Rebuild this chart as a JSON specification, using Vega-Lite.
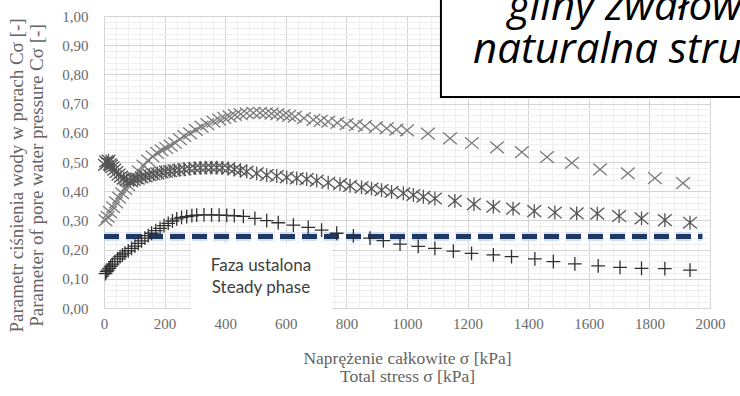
{
  "$schema": "https://vega.github.io/schema/vega-lite/v6.json",
  "width": 606,
  "height": 292,
  "autosize": {"type": "none"},
  "padding": {"left": 104, "top": 16, "right": 30, "bottom": 88},
  "background": "white",
  "config": {"view": {"stroke": null}, "font": "Liberation Serif"},
  "datasets": {
    "pts": [
      {"s":"A","x":5,"y":0.300},{"s":"A","x":12,"y":0.312},{"s":"A","x":20,"y":0.328},{"s":"A","x":30,"y":0.345},{"s":"A","x":40,"y":0.362},{"s":"A","x":50,"y":0.378},{"s":"A","x":60,"y":0.393},{"s":"A","x":70,"y":0.408},{"s":"A","x":80,"y":0.421},{"s":"A","x":90,"y":0.434},{"s":"A","x":100,"y":0.446},{"s":"A","x":115,"y":0.468},{"s":"A","x":130,"y":0.488},{"s":"A","x":146,"y":0.505},{"s":"A","x":160,"y":0.519},{"s":"A","x":175,"y":0.531},{"s":"A","x":190,"y":0.540},{"s":"A","x":205,"y":0.548},{"s":"A","x":220,"y":0.556},{"s":"A","x":235,"y":0.565},{"s":"A","x":250,"y":0.578},{"s":"A","x":265,"y":0.589},{"s":"A","x":284,"y":0.598},{"s":"A","x":303,"y":0.610},{"s":"A","x":322,"y":0.621},{"s":"A","x":341,"y":0.630},{"s":"A","x":361,"y":0.638},{"s":"A","x":380,"y":0.645},{"s":"A","x":397,"y":0.651},{"s":"A","x":414,"y":0.656},{"s":"A","x":432,"y":0.661},{"s":"A","x":451,"y":0.664},{"s":"A","x":471,"y":0.667},{"s":"A","x":493,"y":0.668},{"s":"A","x":515,"y":0.668},{"s":"A","x":534,"y":0.667},{"s":"A","x":553,"y":0.666},{"s":"A","x":572,"y":0.664},{"s":"A","x":592,"y":0.661},{"s":"A","x":611,"y":0.658},{"s":"A","x":630,"y":0.655},{"s":"A","x":660,"y":0.650},{"s":"A","x":691,"y":0.644},{"s":"A","x":715,"y":0.641},{"s":"A","x":740,"y":0.638},{"s":"A","x":770,"y":0.634},{"s":"A","x":801,"y":0.630},{"s":"A","x":831,"y":0.626},{"s":"A","x":861,"y":0.623},{"s":"A","x":897,"y":0.619},{"s":"A","x":933,"y":0.615},{"s":"A","x":965,"y":0.611},{"s":"A","x":1000,"y":0.608},{"s":"A","x":1069,"y":0.597},{"s":"A","x":1142,"y":0.581},{"s":"A","x":1214,"y":0.565},{"s":"A","x":1297,"y":0.550},{"s":"A","x":1379,"y":0.534},{"s":"A","x":1462,"y":0.517},{"s":"A","x":1544,"y":0.497},{"s":"A","x":1637,"y":0.475},{"s":"A","x":1729,"y":0.461},{"s":"A","x":1818,"y":0.445},{"s":"A","x":1911,"y":0.428},
      {"s":"B","x":3,"y":0.490},{"s":"B","x":7,"y":0.502},{"s":"B","x":11,"y":0.497},{"s":"B","x":15,"y":0.505},{"s":"B","x":19,"y":0.492},{"s":"B","x":23,"y":0.488},{"s":"B","x":28,"y":0.482},{"s":"B","x":34,"y":0.474},{"s":"B","x":41,"y":0.465},{"s":"B","x":48,"y":0.457},{"s":"B","x":56,"y":0.450},{"s":"B","x":65,"y":0.443},{"s":"B","x":75,"y":0.438},{"s":"B","x":86,"y":0.436},{"s":"B","x":98,"y":0.439},{"s":"B","x":111,"y":0.443},{"s":"B","x":124,"y":0.447},{"s":"B","x":137,"y":0.451},{"s":"B","x":150,"y":0.455},{"s":"B","x":163,"y":0.458},{"s":"B","x":176,"y":0.461},{"s":"B","x":190,"y":0.464},{"s":"B","x":204,"y":0.467},{"s":"B","x":218,"y":0.469},{"s":"B","x":233,"y":0.471},{"s":"B","x":248,"y":0.473},{"s":"B","x":265,"y":0.475},{"s":"B","x":282,"y":0.477},{"s":"B","x":300,"y":0.479},{"s":"B","x":318,"y":0.480},{"s":"B","x":336,"y":0.481},{"s":"B","x":354,"y":0.481},{"s":"B","x":372,"y":0.481},{"s":"B","x":390,"y":0.480},{"s":"B","x":410,"y":0.478},{"s":"B","x":430,"y":0.475},{"s":"B","x":450,"y":0.471},{"s":"B","x":471,"y":0.467},{"s":"B","x":504,"y":0.461},{"s":"B","x":537,"y":0.455},{"s":"B","x":570,"y":0.452},{"s":"B","x":603,"y":0.447},{"s":"B","x":636,"y":0.444},{"s":"B","x":669,"y":0.441},{"s":"B","x":702,"y":0.436},{"s":"B","x":740,"y":0.429},{"s":"B","x":779,"y":0.424},{"s":"B","x":812,"y":0.418},{"s":"B","x":850,"y":0.413},{"s":"B","x":883,"y":0.409},{"s":"B","x":916,"y":0.404},{"s":"B","x":949,"y":0.398},{"s":"B","x":988,"y":0.393},{"s":"B","x":1021,"y":0.387},{"s":"B","x":1054,"y":0.381},{"s":"B","x":1092,"y":0.375},{"s":"B","x":1158,"y":0.367},{"s":"B","x":1221,"y":0.356},{"s":"B","x":1285,"y":0.347},{"s":"B","x":1350,"y":0.340},{"s":"B","x":1420,"y":0.332},{"s":"B","x":1488,"y":0.327},{"s":"B","x":1560,"y":0.324},{"s":"B","x":1628,"y":0.323},{"s":"B","x":1700,"y":0.315},{"s":"B","x":1774,"y":0.307},{"s":"B","x":1851,"y":0.301},{"s":"B","x":1934,"y":0.292},
      {"s":"C","x":5,"y":0.118},{"s":"C","x":9,"y":0.125},{"s":"C","x":13,"y":0.130},{"s":"C","x":17,"y":0.136},{"s":"C","x":22,"y":0.143},{"s":"C","x":28,"y":0.150},{"s":"C","x":36,"y":0.159},{"s":"C","x":45,"y":0.168},{"s":"C","x":53,"y":0.176},{"s":"C","x":61,"y":0.182},{"s":"C","x":69,"y":0.188},{"s":"C","x":80,"y":0.196},{"s":"C","x":91,"y":0.204},{"s":"C","x":102,"y":0.212},{"s":"C","x":113,"y":0.221},{"s":"C","x":124,"y":0.230},{"s":"C","x":135,"y":0.239},{"s":"C","x":146,"y":0.248},{"s":"C","x":157,"y":0.256},{"s":"C","x":171,"y":0.265},{"s":"C","x":185,"y":0.273},{"s":"C","x":198,"y":0.282},{"s":"C","x":212,"y":0.290},{"s":"C","x":226,"y":0.298},{"s":"C","x":240,"y":0.305},{"s":"C","x":256,"y":0.310},{"s":"C","x":273,"y":0.313},{"s":"C","x":290,"y":0.316},{"s":"C","x":306,"y":0.318},{"s":"C","x":330,"y":0.319},{"s":"C","x":355,"y":0.319},{"s":"C","x":380,"y":0.318},{"s":"C","x":405,"y":0.317},{"s":"C","x":430,"y":0.316},{"s":"C","x":460,"y":0.314},{"s":"C","x":498,"y":0.307},{"s":"C","x":537,"y":0.299},{"s":"C","x":575,"y":0.292},{"s":"C","x":625,"y":0.284},{"s":"C","x":674,"y":0.276},{"s":"C","x":718,"y":0.267},{"s":"C","x":768,"y":0.256},{"s":"C","x":823,"y":0.247},{"s":"C","x":878,"y":0.239},{"s":"C","x":922,"y":0.231},{"s":"C","x":977,"y":0.219},{"s":"C","x":1037,"y":0.211},{"s":"C","x":1092,"y":0.204},{"s":"C","x":1153,"y":0.195},{"s":"C","x":1213,"y":0.187},{"s":"C","x":1285,"y":0.182},{"s":"C","x":1345,"y":0.176},{"s":"C","x":1422,"y":0.168},{"s":"C","x":1483,"y":0.159},{"s":"C","x":1554,"y":0.151},{"s":"C","x":1631,"y":0.144},{"s":"C","x":1703,"y":0.139},{"s":"C","x":1774,"y":0.136},{"s":"C","x":1851,"y":0.135},{"s":"C","x":1934,"y":0.130}
    ],
    "box": [{"x": 1112, "x2": 2800, "y": 0.723, "y2": 1.6}],
    "boxtext": [{"t": "gliny zwałowe", "x": 1333, "y": 0.986}, {"t": "naturalna struktura", "x": 1218, "y": 0.839}],
    "faza": [{"x": 287, "x2": 752, "y": -0.035, "y2": 0.222}],
    "fazatext": [{"t": "Faza ustalona", "x": 518, "y": 0.127}, {"t": "Steady phase", "x": 518, "y": 0.051}],
    "dash": [{"x": 0, "x2": 1975, "y": 0.245}]
  },
  "layer": [
    {
      "data": {"name": "faza"},
      "mark": {"type": "rect", "fill": "white"},
      "encoding": {
        "x": {"field": "x", "type": "quantitative", "scale": {"domain": [0, 2000], "nice": false, "zero": false},
          "axis": {
            "values": [0,40,80,120,160,200,240,280,320,360,400,440,480,520,560,600,640,680,720,760,800,840,880,920,960,1000,1040,1080,1120,1160,1200,1240,1280,1320,1360,1400,1440,1480,1520,1560,1600,1640,1680,1720,1760,1800,1840,1880,1920,1960,2000],
            "tickCount": 1000,
            "labelExpr": "datum.value % 200 === 0 ? datum.label : ''",
            "format": "d",
            "gridColor": {"condition": {"test": "datum.value % 200 === 0", "value": "#d4d4d4"}, "value": "#efefef"},
            "ticks": false, "domain": false, "labelOverlap": false, "labelFlush": false, "labelBound": false,
            "labelFont": "Liberation Serif", "labelFontSize": 15, "labelColor": "#6a6a6a", "labelPadding": 8,
            "title": ["Naprężenie całkowite σ [kPa]", "Total stress σ [kPa]"],
            "titleFont": "Liberation Serif", "titleFontSize": 17.5, "titleFontWeight": "normal", "titleColor": "#646464",
            "titleLineHeight": 18.5, "titleY": 55, "titleBaseline": "alphabetic"
          }},
        "x2": {"field": "x2"},
        "y": {"field": "y", "type": "quantitative", "scale": {"domain": [0, 1], "nice": false, "zero": false},
          "axis": {
            "values": [0,0.02,0.04,0.06,0.08,0.1,0.12,0.14,0.16,0.18,0.2,0.22,0.24,0.26,0.28,0.3,0.32,0.34,0.36,0.38,0.4,0.42,0.44,0.46,0.48,0.5,0.52,0.54,0.56,0.58,0.6,0.62,0.64,0.66,0.68,0.7,0.72,0.74,0.76,0.78,0.8,0.82,0.84,0.86,0.88,0.9,0.92,0.94,0.96,0.98,1],
            "tickCount": 1000,
            "format": ".2f",
            "labelExpr": "abs(datum.value * 10 - round(datum.value * 10)) < 0.001 ? replace(datum.label, '.', ',') : ''",
            "gridColor": {"condition": {"test": "abs(datum.value * 10 - round(datum.value * 10)) < 0.001", "value": "#d4d4d4"}, "value": "#efefef"},
            "ticks": false, "domain": false, "labelOverlap": false, "labelFlush": false, "labelBound": false,
            "labelFont": "Liberation Serif", "labelFontSize": 15, "labelColor": "#6a6a6a", "labelPadding": 16,
            "title": ["Parametr ciśnienia wody w porach Cσ [-]", "Parameter of pore water pressure Cσ [-]"],
            "titleFont": "Liberation Serif", "titleFontSize": 19, "titleFontWeight": "normal", "titleColor": "#646464",
            "titleLineHeight": 20, "titleAngle": -90, "titleAlign": "center", "titleBaseline": "alphabetic",
            "titleX": -82, "titleY": 159
          }},
        "y2": {"field": "y2"}
      }
    },
    {
      "data": {"name": "dash"},
      "mark": {"type": "rule", "stroke": "#c6d9ef", "strokeWidth": 9, "strokeDash": [15, 7], "opacity": 0.8},
      "encoding": {
        "x": {"field": "x", "type": "quantitative", "scale": {"domain": [0, 2000]}},
        "x2": {"field": "x2"},
        "y": {"field": "y", "type": "quantitative", "scale": {"domain": [0, 1]}}
      }
    },
    {
      "data": {"name": "dash"},
      "mark": {"type": "rule", "stroke": "#1f3864", "strokeWidth": 5, "strokeDash": [15, 7]},
      "encoding": {
        "x": {"field": "x", "type": "quantitative", "scale": {"domain": [0, 2000]}},
        "x2": {"field": "x2"},
        "y": {"field": "y", "type": "quantitative", "scale": {"domain": [0, 1]}}
      }
    },
    {
      "data": {"name": "pts"},
      "mark": {"type": "point", "filled": false, "strokeWidth": 1.3, "size": 190, "opacity": 1},
      "encoding": {
        "x": {"field": "x", "type": "quantitative", "scale": {"domain": [0, 2000]}},
        "y": {"field": "y", "type": "quantitative", "scale": {"domain": [0, 1]}},
        "shape": {"field": "s", "type": "nominal", "legend": null,
          "scale": {"domain": ["A", "B", "C"], "range": ["M-1,-0.85L1,0.85M-1,0.85L1,-0.85", "M-1,-0.85L1,0.85M-1,0.85L1,-0.85M0,-1L0,1", "M-1,0L1,0M0,-1L0,1"]}},
        "color": {"field": "s", "type": "nominal", "legend": null,
          "scale": {"domain": ["A", "B", "C"], "range": ["#7a7a7a", "#555555", "#303030"]}}
      }
    },
    {
      "data": {"name": "box"},
      "mark": {"type": "rect", "fill": "white", "stroke": "black", "strokeWidth": 2},
      "encoding": {
        "x": {"field": "x", "type": "quantitative", "scale": {"domain": [0, 2000]}},
        "x2": {"field": "x2"},
        "y": {"field": "y", "type": "quantitative", "scale": {"domain": [0, 1]}},
        "y2": {"field": "y2"}
      }
    },
    {
      "data": {"name": "boxtext"},
      "mark": {"type": "text", "font": "Open Sans", "fontStyle": "italic", "fontSize": 42, "color": "black", "align": "left", "baseline": "alphabetic"},
      "encoding": {
        "x": {"field": "x", "type": "quantitative", "scale": {"domain": [0, 2000]}},
        "y": {"field": "y", "type": "quantitative", "scale": {"domain": [0, 1]}},
        "text": {"field": "t"}
      }
    },
    {
      "data": {"name": "fazatext"},
      "mark": {"type": "text", "font": "Lato", "fontSize": 17, "color": "#404040", "align": "center", "baseline": "alphabetic"},
      "encoding": {
        "x": {"field": "x", "type": "quantitative", "scale": {"domain": [0, 2000]}},
        "y": {"field": "y", "type": "quantitative", "scale": {"domain": [0, 1]}},
        "text": {"field": "t"}
      }
    }
  ]
}
